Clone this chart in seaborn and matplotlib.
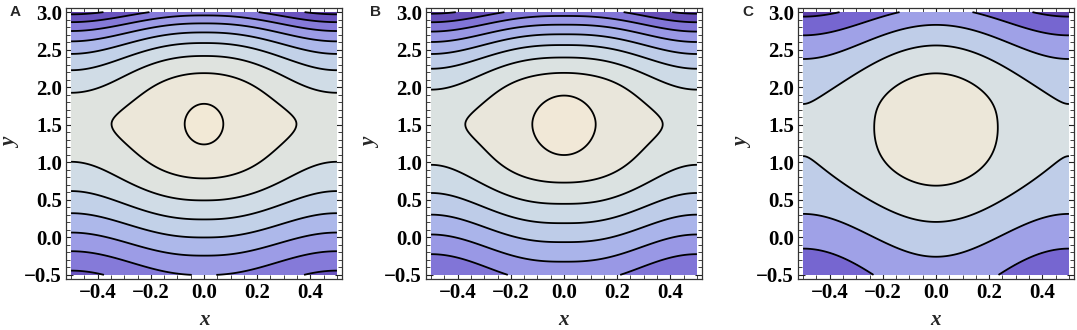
import numpy as np
import matplotlib
matplotlib.use("Agg")
import matplotlib.pyplot as plt
from matplotlib.ticker import FixedLocator, MultipleLocator
import seaborn as sns

# ---------------------------------------------------------------------------
# Values
# ---------------------------------------------------------------------------
panel_names = ["A", "B", "C"]

# height of the closed cell centre
centre_y = [1.51, 1.505, 1.46]
# steepening above the centre, flattening below it
top_cubic = [0.045, 0.0, 0.0]
bottom_coef = [0.075, 0.15, 0.09]
bottom_pow = [2.5, 2.0, 2.5]
# modulation along x: a cosine part plus a narrow dip at the cell centre
wave_amp = [0.5, 0.439, 1.18]
wave_flat = [1.2, 1.35, 1.0]       # flattening of the wave away from y0
flat_start = [0.5, 0.5, 0.5]
dip_amp = [0.0835, 0.099, 0.0]
dip_width = [0.08, 0.08, 0.08]
dip_reach = [0.5, 0.5, 0.5]
# how the wave grows / fades away from the centre (near and far terms)
gain_top = [0.5, 0.27, -0.12]
gain_top_width = [0.4, 0.35, 0.35]
gain_bottom = [0.4, 0.27, -0.3]
gain_bottom_width = [0.4, 0.35, 0.6]
fade_bottom = [-0.42, -0.27, 0.0]
# contour levels (first one and spacing), read along x = 0
first_level = [0.0725, 0.147, 0.525]
level_step = [0.405, 0.323, 0.676]

x_range = [-0.5, 0.5]
y_range = [-0.5, 3.0]
x_ticks = [-0.4, -0.2, 0.0, 0.2, 0.4]
y_ticks = [-0.5, 0.0, 0.5, 1.0, 1.5, 2.0, 2.5, 3.0]

# low values -> dark purple, high values -> cream
shade_colors = ["#55359f", "#7564cf", "#9692e4", "#aab4ea",
                "#c3d2e8", "#d3dfe5", "#e6e5dc", "#f3e9d6"]

# figure-pixel frame of each panel (left edge), all share top/size
frame_left_px = [66, 426, 798]


def depth(k, xx, yy):
    """Distance below the peak of panel k's field (0 at the cell centre)."""
    eta = yy - centre_y[k]
    up = eta >= 0
    a = np.abs(eta)
    zeta = np.where(up, a + top_cubic[k] * a ** 3,
                    a - bottom_coef[k] * a ** bottom_pow[k])
    gain = np.where(
        up,
        1 + gain_top[k] * (1 - np.exp(-(a / gain_top_width[k]) ** 2)),
        1 + gain_bottom[k] * (1 - np.exp(-(a / gain_bottom_width[k]) ** 2))
        + fade_bottom[k] * (1 - np.exp(-a ** 2)))
    power = 1 + (wave_flat[k] - 1) * (1 - np.exp(-(a / flat_start[k]) ** 2))
    wave = wave_amp[k] * (np.sin(np.pi * xx) ** 2) ** power * gain
    dip = (dip_amp[k] * (1 - np.exp(-(xx / dip_width[k]) ** 2))
           * np.exp(-(a / dip_reach[k]) ** 2))
    return zeta ** 2 + wave + dip


def fmt(v):
    s = f"{abs(v):.1f}"
    return "\u2212" + s if v < 0 else s


sns.set_style("ticks")
plt.rcParams["font.family"] = ["Liberation Serif", "DejaVu Serif"]
plt.rcParams["xtick.direction"] = "in"
plt.rcParams["ytick.direction"] = "in"

cmap = sns.blend_palette(shade_colors, as_cmap=True)

fig = plt.figure(figsize=(10.77, 3.30), dpi=100)
W, H = 1077, 330

gx = np.linspace(x_range[0], x_range[1], 500)
gy = np.linspace(y_range[0], y_range[1], 700)
X, Y = np.meshgrid(gx, gy)

for k, name in enumerate(panel_names):
    ax = fig.add_axes([frame_left_px[k] / W, (H - 279) / H, 276 / W, 271 / H])
    D = depth(k, X, Y)
    dmax = D.max()
    lines = []
    v = first_level[k]
    while v < dmax:
        lines.append(v)
        v += level_step[k]
    bounds = [0.0] + lines + [dmax + 1e-9]
    mids = [(bounds[i] + bounds[i + 1]) / 2 for i in range(len(bounds) - 1)]
    band_colors = [cmap(1 - m / dmax) for m in mids]

    ax.contourf(X, Y, D, levels=bounds, colors=band_colors)
    ax.contour(X, Y, D, levels=lines, colors="black", linewidths=1.3)

    ax.set_xlim(-0.519, 0.519)
    ax.set_ylim(-0.555, 3.055)

    ax.xaxis.set_major_locator(FixedLocator(x_ticks))
    ax.yaxis.set_major_locator(FixedLocator(y_ticks))
    ax.xaxis.set_minor_locator(MultipleLocator(0.05))
    ax.yaxis.set_minor_locator(MultipleLocator(0.1))
    ax.set_xticklabels([fmt(t) for t in x_ticks])
    ax.set_yticklabels([fmt(t) for t in y_ticks])
    ax.tick_params(which="both", top=True, right=True, direction="in",
                   colors="#222222")
    ax.tick_params(which="major", length=5, width=0.8, labelsize=15, pad=3)
    ax.tick_params(which="minor", length=2.8, width=0.6)
    for lab in ax.get_xticklabels() + ax.get_yticklabels():
        lab.set_fontweight("bold")
        lab.set_color("black")
    for sp in ax.spines.values():
        sp.set_linewidth(0.9)
        sp.set_color("#333333")

    ax.set_xlabel("x", fontsize=15, fontstyle="italic", fontweight="bold")
    ax.set_ylabel("y", fontsize=15, fontstyle="italic", fontweight="bold")
    ax.xaxis.set_label_coords(0.5, -0.115)
    ax.yaxis.set_label_coords(-0.163, 0.5)

    fig.text((frame_left_px[k] - 56) / W, (H - 12) / H, name,
             fontsize=11, fontweight="bold", va="center", ha="left",
             family=["Liberation Sans", "DejaVu Sans"])

fig.savefig("out.png", dpi=100)
